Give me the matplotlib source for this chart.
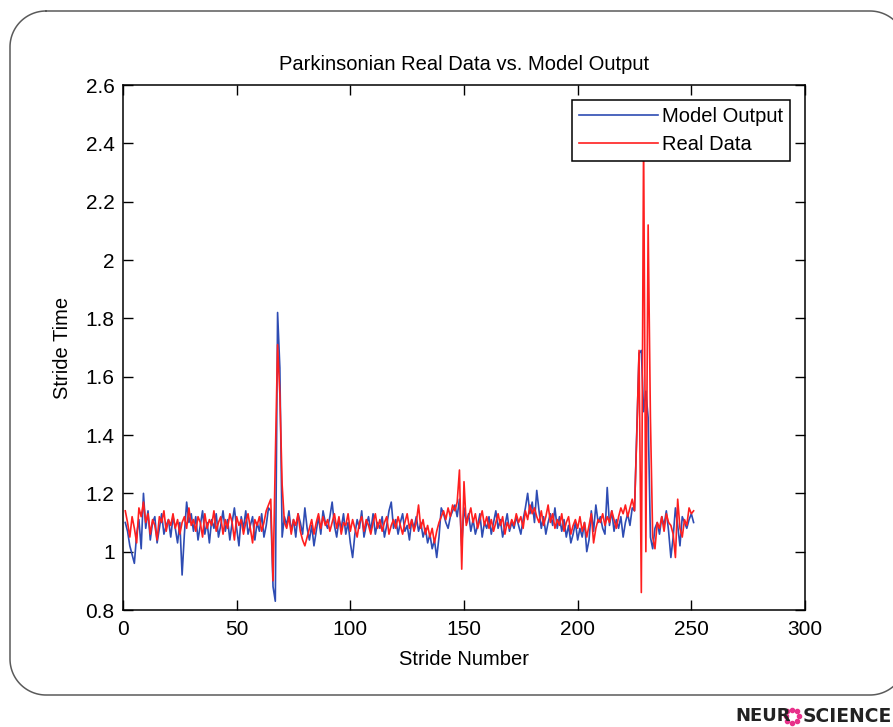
import numpy as np
import matplotlib
matplotlib.use("Agg")
import matplotlib.pyplot as plt
from matplotlib.transforms import IdentityTransform
from matplotlib.ticker import FuncFormatter

# stride times (strides 1..251)
model_output = [
    1.10, 1.07, 1.02, 0.99, 0.96, 1.06, 1.11, 1.01, 1.20, 1.08,
    1.14, 1.04, 1.10, 1.12, 1.03, 1.08, 1.13, 1.06, 1.09, 1.11,
    1.05, 1.12, 1.08, 1.03, 1.10, 0.92, 1.06, 1.17, 1.10, 1.13,
    1.07, 1.12, 1.04, 1.09, 1.14, 1.06, 1.10, 1.03, 1.11, 1.08,
    1.13, 1.05, 1.09, 1.14, 1.07, 1.11, 1.04, 1.10, 1.15, 1.08,
    1.02, 1.12, 1.08, 1.14, 1.06, 1.09, 1.12, 1.04, 1.10, 1.07,
    1.13, 1.05, 1.09, 1.15, 1.14, 0.88, 0.83, 1.82, 1.63, 1.05,
    1.12, 1.09, 1.14, 1.07, 1.11, 1.05, 1.13, 1.10, 1.06, 1.15,
    1.08, 1.04, 1.09, 1.02, 1.07, 1.12, 1.06, 1.14, 1.10, 1.08,
    1.12, 1.17, 1.09, 1.05, 1.11, 1.08, 1.13, 1.06, 1.10, 1.03,
    0.98, 1.06, 1.11, 1.08, 1.14, 1.05, 1.09, 1.12, 1.07, 1.13,
    1.06, 1.10, 1.08, 1.12, 1.05, 1.09, 1.14, 1.17, 1.08, 1.11,
    1.06, 1.10, 1.13, 1.07, 1.09, 1.04, 1.11, 1.08, 1.12, 1.07,
    1.10, 1.05, 1.08, 1.03, 1.06, 1.01, 1.04, 0.98, 1.05, 1.15,
    1.13, 1.10, 1.08, 1.12, 1.14, 1.16, 1.12, 1.18, 1.02, 1.15,
    1.10, 1.13, 1.07, 1.11, 1.06, 1.09, 1.13, 1.05, 1.10, 1.08,
    1.12, 1.06, 1.10, 1.14, 1.08, 1.11, 1.05, 1.09, 1.13, 1.07,
    1.10, 1.08, 1.12, 1.09, 1.06, 1.11, 1.15, 1.20, 1.13, 1.17,
    1.10, 1.21, 1.14, 1.08, 1.12, 1.06, 1.10, 1.13, 1.09, 1.15,
    1.08, 1.12, 1.07, 1.11, 1.05, 1.09, 1.03, 1.06, 1.10, 1.04,
    1.08, 1.05, 1.10, 1.00, 1.04, 1.14, 1.07, 1.16, 1.10, 1.12,
    1.08, 1.06, 1.22, 1.09, 1.14, 1.07, 1.11, 1.08, 1.12, 1.05,
    1.10, 1.13, 1.09, 1.15, 1.14, 1.41, 1.68, 1.69, 1.48, 1.55,
    1.46, 1.05, 1.01, 1.08, 1.10, 1.06, 1.12, 1.09, 1.14, 1.07,
    0.98, 1.05, 1.15, 1.09, 1.02, 1.12, 1.10, 1.08, 1.11, 1.13,
    1.10,
]

real_data = [
    1.14, 1.10, 1.05, 1.12, 1.08, 1.03, 1.15, 1.12, 1.17, 1.10,
    1.13, 1.06, 1.11, 1.09, 1.04, 1.12, 1.10, 1.14, 1.07, 1.11,
    1.09, 1.13, 1.08, 1.11, 1.06, 1.10, 1.12, 1.08, 1.15, 1.09,
    1.11, 1.07, 1.12, 1.10, 1.05, 1.13, 1.08, 1.11, 1.09, 1.14,
    1.07, 1.10, 1.12, 1.06, 1.11, 1.08, 1.13, 1.10, 1.04, 1.12,
    1.09, 1.11, 1.06, 1.10, 1.13, 1.08, 1.03, 1.11, 1.09, 1.12,
    1.07, 1.10, 1.14, 1.16, 1.18, 0.90, 1.32, 1.71, 1.54, 1.23,
    1.10, 1.08, 1.12, 1.06, 1.11, 1.09, 1.13, 1.07, 1.04, 1.02,
    1.05, 1.08, 1.11, 1.06, 1.10, 1.13, 1.08, 1.12, 1.09, 1.11,
    1.07, 1.10, 1.13, 1.08, 1.12, 1.06, 1.10, 1.09, 1.13, 1.07,
    1.11, 1.08, 1.05, 1.10, 1.12, 1.07, 1.11, 1.09, 1.06, 1.10,
    1.13, 1.08, 1.11, 1.07, 1.10, 1.12, 1.06, 1.09, 1.11, 1.08,
    1.12, 1.09, 1.06, 1.10, 1.13, 1.08, 1.11, 1.07, 1.10, 1.16,
    1.08, 1.11, 1.06, 1.09, 1.05, 1.08, 1.03, 1.07, 1.10, 1.12,
    1.14, 1.11, 1.15, 1.12, 1.16, 1.14, 1.17, 1.28, 0.94, 1.24,
    1.09, 1.12, 1.15, 1.10, 1.13, 1.08, 1.11, 1.14, 1.09, 1.12,
    1.08, 1.11, 1.07, 1.10, 1.13, 1.09, 1.12, 1.06, 1.10, 1.08,
    1.11, 1.09, 1.13, 1.10, 1.12, 1.08, 1.14, 1.11, 1.16, 1.13,
    1.15, 1.12, 1.10, 1.14, 1.09, 1.12, 1.16, 1.10, 1.13, 1.08,
    1.11, 1.09, 1.13, 1.07, 1.10, 1.12, 1.06, 1.09, 1.11, 1.08,
    1.12, 1.07, 1.10, 1.05, 1.09, 1.13, 1.03, 1.08, 1.11, 1.10,
    1.13, 1.09, 1.12, 1.10, 1.14, 1.11, 1.08, 1.12, 1.15, 1.13,
    1.16, 1.12, 1.15, 1.18, 1.14, 1.40, 1.69, 0.86, 2.42, 1.00,
    2.12, 1.46, 1.05, 1.01, 1.10, 1.08, 1.12, 1.07, 1.13, 1.10,
    1.09, 1.06, 0.98, 1.18, 1.08, 1.05, 1.11, 1.09, 1.15, 1.13,
    1.14,
]

stride = np.arange(1, len(model_output) + 1)

plt.rcParams['font.family'] = ['Liberation Sans', 'DejaVu Sans']

W, H = 893, 727
fig = plt.figure(figsize=(W / 100, H / 100), dpi=100)
fig.patch.set_facecolor('white')


def corner(cx, cy, r, a0, a1):
    t = np.radians(np.linspace(a0, a1, 30))
    return list(cx + r * np.cos(t)), list(cy + r * np.sin(t))


# rounded frame (pixel coords, origin bottom-left); right side runs off the canvas
r = 36
left, right, bottom, top = 10, 906, 32, 716
xs, ys = [], []
for cx, cy, a0, a1 in [(left + r, top - r, 90, 180), (left + r, bottom + r, 180, 270),
                       (right - r, bottom + r, 270, 360), (right - r, top - r, 0, 90)]:
    cxs, cys = corner(cx, cy, r, a0, a1)
    xs += cxs
    ys += cys
xs.append(xs[0])
ys.append(ys[0])
fig.add_artist(plt.Line2D(xs, ys, color='#5a5a5a', linewidth=1.1,
                          transform=IdentityTransform()))

ax = fig.add_axes([123 / W, 1 - 610 / H, (805 - 123) / W, (610 - 85) / H])
ax.plot(stride, model_output, color='#2e4cb3', linewidth=1.2, label='Model Output')
ax.plot(stride, real_data, color='#ff1f1f', linewidth=1.2, label='Real Data')

ax.set_xlim(0, 300)
ax.set_ylim(0.8, 2.6)
ax.set_xticks(np.arange(0, 301, 50))
ax.set_yticks(np.arange(0.8, 2.61, 0.2))
ax.yaxis.set_major_formatter(FuncFormatter(lambda v, p: '%g' % round(v, 1)))
ax.tick_params(direction='in', length=7, width=1, top=True, right=True,
               labelsize=15, colors='black')
ax.tick_params(axis='x', pad=7)
ax.tick_params(axis='y', pad=6)
for s in ax.spines.values():
    s.set_linewidth(1.1)

ax.set_title('Parkinsonian Real Data vs. Model Output', fontsize=14.5, pad=11)
ax.set_xlabel('Stride Number', fontsize=14.5, labelpad=8)
ax.set_ylabel('Stride Time', fontsize=14.5, labelpad=10)

leg = ax.legend(loc='upper right', fontsize=14.5, handlelength=3.9, handletextpad=0.2,
                borderaxespad=0.75, fancybox=False, framealpha=1, edgecolor='black',
                borderpad=0.35, labelspacing=0.45)
leg.get_frame().set_linewidth(1.1)

# journal logo, bottom right
logo_y = 1 - 716 / H
fig.text(735 / W, logo_y, 'NEUR', fontsize=13, fontweight='bold', color='#222222',
         va='center', ha='left', family='DejaVu Sans')
theta = np.linspace(0, 2 * np.pi, 9)[:-1]
fig.add_artist(plt.Line2D(792 / W + 6.5 / W * np.cos(theta),
                          logo_y + 6.5 / H * np.sin(theta),
                          linestyle='none', marker='o', markersize=3.0,
                          color='#e8308a', transform=fig.transFigure))
fig.text(803 / W, logo_y, 'SCIENCE', fontsize=13.5, fontweight='bold', color='#222222',
         va='center', ha='left', family='DejaVu Sans')

fig.savefig('out.png', dpi=100)
